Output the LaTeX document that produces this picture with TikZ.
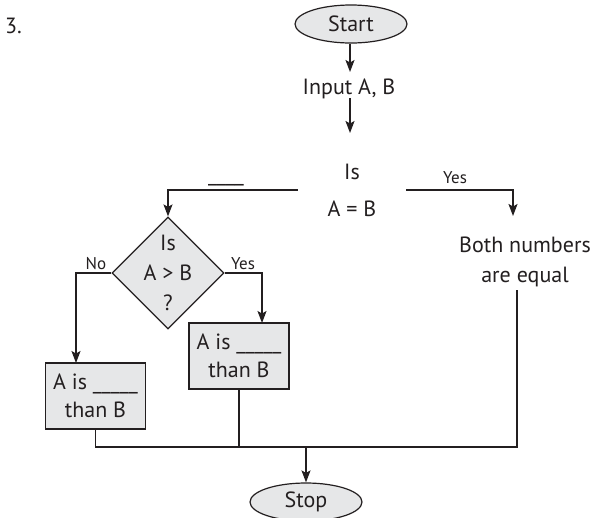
\documentclass[tikz,border=0pt]{standalone}
\usepackage{fontspec}
\setmainfont{PT Sans}
\usetikzlibrary{shapes.geometric,arrows.meta}
\definecolor{ink}{HTML}{231F20}
\definecolor{boxfill}{HTML}{E6E7E8}
\tikzset{
  ln/.style={draw=ink,line width=1.4pt},
  arr/.style={ln,-{Stealth[length=12pt,width=9pt,inset=2.5pt]}},
  term/.style={ellipse,draw=ink,line width=1.2pt,fill=boxfill,minimum width=112pt,minimum height=38pt,inner sep=0pt,font=\fontsize{22}{26}\selectfont,text=ink},
  dia/.style={diamond,draw=ink,line width=1.2pt,fill=boxfill,minimum width=112pt,minimum height=112pt,inner sep=0pt},
  procbox/.style={rectangle,draw=ink,line width=1.4pt,fill=boxfill,minimum width=100pt,minimum height=66pt,inner sep=0pt,align=center,font=\fontsize{22}{28}\selectfont,text=ink},
  txt/.style={font=\fontsize{22}{26}\selectfont,text=ink,inner sep=0pt},
  lbl/.style={font=\fontsize{17}{20}\selectfont,text=ink,inner sep=0pt,anchor=base},
}
\begin{document}
\begin{tikzpicture}[x=1pt,y=-1pt]
\useasboundingbox[fill=white] (0,0) rectangle (596,517);
\node[txt,anchor=base west] (num) at (5,33) {3.};
\node[term] (start) at (351,24) {Start};
\node[txt,anchor=base] (input) at (349,94) {Input A, B};
\node[txt,align=center,font=\fontsize{22}{37}\selectfont,inner xsep=30pt] (isab) at (352,190) {Is\\A = B};
\node[txt,align=center,font=\fontsize{22}{30}\selectfont] (both) at (525,262) {Both numbers\\are equal};
\node[dia] (d) at (168,273) {};
\node[txt,align=center,font=\fontsize{22}{30}\selectfont] (dtext) at (d.center) {Is\\A > B\\?};
\node[procbox] (rb) at (239,356) {A is \_\_\_\_\_\\than B};
\node[procbox] (lb) at (95.5,396) {A is \_\_\_\_\_\\than B};
\node[term] (stop) at (306,502) {Stop};
% labels
\node[txt,anchor=base] (blank) at (226,181) {\_\_\_\_};
\node[lbl] (yes1) at (455,183) {Yes};
\node[lbl] (no) at (96,269) {No};
\node[lbl] (yes2) at (243,269) {Yes};
% coordinates
\coordinate (inputtop) at (350,72);
\coordinate (inputbot) at (350,98);
\coordinate (isabtop) at (350,133);
\coordinate (bothin) at (513,216);
\coordinate (lbin) at (76,363);
\coordinate (rbin) at (262,323);
\coordinate (bl) at (95.5,447);
\coordinate (br) at (517,447);
\coordinate (bt) at (517,290);
\coordinate (j) at (306,447);
% connectors
\draw[arr] (start.south -| inputtop) -- (inputtop);
\draw[arr] (inputbot) -- (isabtop);
\draw[arr] (isab.west) -| (d.north);
\draw[arr] (isab.east) -| (bothin);
\draw[arr] (d.west) -| (lbin);
\draw[arr] (d.east) -| (rbin);
\draw[ln] (lb.south) -- (bl) -- (br) -- (bt);
\draw[ln] (rb.south) -- (rb.south |- bl);
\draw[arr] (j) -- (stop.north);
\end{tikzpicture}
\end{document}
